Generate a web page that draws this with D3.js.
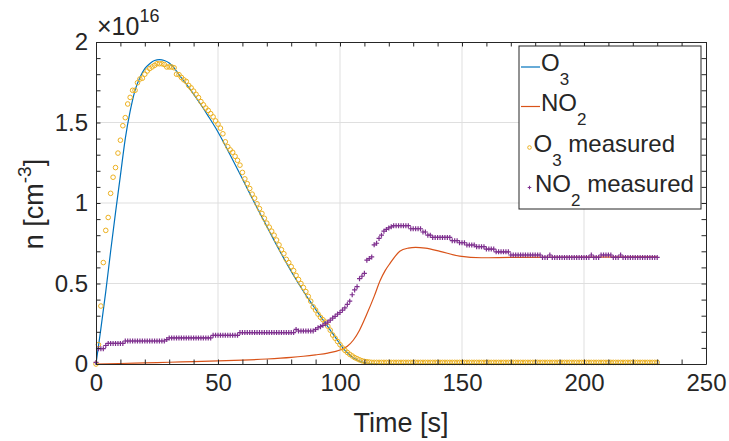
<!DOCTYPE html>
<html>
<head>
<meta charset="utf-8">
<script src="https://cdn.jsdelivr.net/npm/d3@7"></script>
<style>
  body { margin: 0; background: #fff; }
  svg text { font-family: "Liberation Sans", Arial, Helvetica, sans-serif; fill: #262626; }
</style>
</head>
<body>
<svg width="729" height="441"></svg>
<script>
// values are n in units of 1e16 cm^-3, time in s
const xTicks = [0, 50, 100, 150, 200, 250];
const yTicks = [0, 0.5, 1, 1.5, 2];

// model curves (knots)
const o3ModelTime = [0, 2, 4, 6, 8, 10, 12, 14, 16, 18, 20, 22, 24, 26, 28, 30, 32, 34, 37, 40, 43, 46, 49, 52, 55, 58, 61, 65, 69, 73, 77, 81, 85, 89, 92, 95, 98, 101, 104, 107, 110, 113, 118, 230];
const o3Model = [0, 0.22, 0.45, 0.70, 0.94, 1.17, 1.40, 1.57, 1.70, 1.78, 1.835, 1.865, 1.885, 1.89, 1.885, 1.87, 1.84, 1.797, 1.738, 1.676, 1.61, 1.54, 1.467, 1.385, 1.298, 1.21, 1.12, 1.0, 0.883, 0.768, 0.656, 0.55, 0.452, 0.362, 0.296, 0.232, 0.168, 0.104, 0.055, 0.024, 0.008, 0.002, 0, 0];

const no2ModelTime = [0, 10, 20, 30, 40, 50, 60, 70, 80, 85, 90, 95, 100, 103, 105.5, 108, 111, 114, 116.5, 118.5, 120.5, 124.5, 128, 131, 135, 141, 149, 158, 170, 230];
const no2Model = [0, 0.003, 0.007, 0.011, 0.015, 0.019, 0.024, 0.031, 0.041, 0.048, 0.057, 0.068, 0.087, 0.11, 0.149, 0.21, 0.31, 0.42, 0.52, 0.58, 0.625, 0.70, 0.72, 0.725, 0.72, 0.70, 0.67, 0.66, 0.662, 0.665];

// measurements, one sample per second from t = 0 s
const sampleStep = 1;
const o3Measured = [
  0, 0.12, 0.36, 0.63, 0.83, 0.91, 1.06, 1.16, 1.22, 1.31,
  1.39, 1.48, 1.53, 1.615, 1.656, 1.70, 1.70, 1.747, 1.77, 1.775,
  1.80, 1.82, 1.835, 1.845, 1.855, 1.865, 1.865, 1.865, 1.86, 1.845,
  1.845, 1.845, 1.84, 1.80, 1.797, 1.78, 1.765, 1.755, 1.73, 1.715,
  1.695, 1.675, 1.655, 1.63, 1.61, 1.59, 1.575, 1.555, 1.535, 1.51,
  1.49, 1.465, 1.43, 1.38, 1.35, 1.33, 1.315, 1.29, 1.265, 1.235,
  1.19, 1.15, 1.12, 1.09, 1.055, 1.03, 0.995, 0.965, 0.935, 0.905,
  0.875, 0.85, 0.825, 0.80, 0.77, 0.74, 0.71, 0.685, 0.65, 0.63,
  0.605, 0.58, 0.55, 0.525, 0.50, 0.475, 0.45, 0.42, 0.39, 0.355,
  0.335, 0.31, 0.29, 0.275, 0.26, 0.235, 0.21, 0.18, 0.16, 0.14,
  0.12, 0.10, 0.085, 0.072, 0.06, 0.05, 0.04, 0.033, 0.026, 0.02,
  0.016, 0.014, 0.012, 0.01, 0.01, 0.01, 0.01, 0.01, 0.01, 0.01,
  0.01, 0.01, 0.01, 0.01, 0.01, 0.01, 0.01, 0.01, 0.01, 0.01,
  0.01, 0.01, 0.01, 0.01, 0.01, 0.01, 0.01, 0.01, 0.01, 0.01,
  0.01, 0.01, 0.01, 0.01, 0.01, 0.01, 0.01, 0.01, 0.01, 0.01,
  0.01, 0.01, 0.01, 0.01, 0.01, 0.01, 0.01, 0.01, 0.01, 0.01,
  0.01, 0.01, 0.01, 0.01, 0.01, 0.01, 0.01, 0.01, 0.01, 0.01,
  0.01, 0.01, 0.01, 0.01, 0.01, 0.01, 0.01, 0.01, 0.01, 0.01,
  0.01, 0.01, 0.01, 0.01, 0.01, 0.01, 0.01, 0.01, 0.01, 0.01,
  0.01, 0.01, 0.01, 0.01, 0.01, 0.01, 0.01, 0.01, 0.01, 0.01,
  0.01, 0.01, 0.01, 0.01, 0.01, 0.01, 0.01, 0.01, 0.01, 0.01,
  0.01, 0.01, 0.01, 0.01, 0.01, 0.01, 0.01, 0.01, 0.01, 0.01,
  0.01, 0.01, 0.01, 0.01, 0.01, 0.01, 0.01, 0.01, 0.01, 0.01,
  0.01
];
const no2Measured = [
  0.01, 0.095, 0.095, 0.095, 0.115, 0.128, 0.128, 0.128, 0.128, 0.128,
  0.128, 0.128, 0.143, 0.143, 0.143, 0.143, 0.143, 0.143, 0.143, 0.143,
  0.143, 0.143, 0.143, 0.143, 0.143, 0.143, 0.143, 0.143, 0.143, 0.152,
  0.162, 0.162, 0.162, 0.162, 0.162, 0.162, 0.162, 0.162, 0.162, 0.162,
  0.162, 0.162, 0.162, 0.162, 0.162, 0.162, 0.162, 0.162, 0.178, 0.178,
  0.178, 0.178, 0.178, 0.178, 0.178, 0.178, 0.178, 0.178, 0.178, 0.195,
  0.195, 0.195, 0.195, 0.195, 0.195, 0.195, 0.195, 0.195, 0.195, 0.195,
  0.195, 0.195, 0.195, 0.195, 0.195, 0.195, 0.195, 0.195, 0.195, 0.195,
  0.195, 0.195, 0.215, 0.205, 0.205, 0.205, 0.205, 0.205, 0.205, 0.205,
  0.215, 0.225, 0.232, 0.24, 0.25, 0.26, 0.272, 0.285, 0.296, 0.31,
  0.32, 0.335, 0.348, 0.37, 0.39, 0.43, 0.46, 0.48, 0.53, 0.545,
  0.563, 0.645, 0.655, 0.665, 0.74, 0.75, 0.78, 0.80, 0.825, 0.836,
  0.845, 0.852, 0.859, 0.859, 0.859, 0.859, 0.859, 0.859, 0.859, 0.84,
  0.84, 0.84, 0.84, 0.84, 0.82, 0.82, 0.80, 0.80, 0.786, 0.786,
  0.786, 0.786, 0.786, 0.786, 0.786, 0.786, 0.766, 0.766, 0.766, 0.753,
  0.753, 0.753, 0.739, 0.739, 0.739, 0.739, 0.729, 0.729, 0.729, 0.729,
  0.714, 0.714, 0.714, 0.714, 0.697, 0.697, 0.697, 0.697, 0.697, 0.697,
  0.677, 0.677, 0.677, 0.677, 0.677, 0.677, 0.677, 0.677, 0.677, 0.677,
  0.677, 0.677, 0.677, 0.662, 0.662, 0.662, 0.677, 0.662, 0.662, 0.662,
  0.662, 0.662, 0.662, 0.662, 0.662, 0.662, 0.662, 0.662, 0.662, 0.662,
  0.662, 0.662, 0.662, 0.677, 0.662, 0.662, 0.662, 0.677, 0.677, 0.677,
  0.677, 0.677, 0.662, 0.662, 0.662, 0.677, 0.662, 0.662, 0.662, 0.662,
  0.662, 0.662, 0.662, 0.662, 0.662, 0.662, 0.662, 0.662, 0.662, 0.662,
  0.662
];

const colors = { o3: "#0072BD", no2: "#D95319", o3m: "#EDB120", no2m: "#7E2F8E" };
const axisColor = "#262626";

const svg = d3.select("svg");
const x = d3.scaleLinear().domain([0, 250]).range([96, 706]);
const y = d3.scaleLinear().domain([0, 2]).range([364, 42]);
const tickLen = 4.5;

// grid
const grid = svg.append("g").attr("stroke", "#dfdfdf").attr("stroke-width", 1);
grid.selectAll(".gx").data(xTicks.slice(1, -1)).enter().append("line")
  .attr("x1", d => x(d)).attr("x2", d => x(d))
  .attr("y1", y(0)).attr("y2", y(2));
grid.selectAll(".gy").data(yTicks.slice(1, -1)).enter().append("line")
  .attr("x1", x(0)).attr("x2", x(250))
  .attr("y1", d => y(d)).attr("y2", d => y(d));

// model lines
const line = d3.line().curve(d3.curveMonotoneX).x(d => x(d[0])).y(d => y(d[1]));
svg.append("path")
  .datum(d3.zip(o3ModelTime, o3Model))
  .attr("fill", "none").attr("stroke", colors.o3).attr("stroke-width", 1.2)
  .attr("d", line);
svg.append("path")
  .datum(d3.zip(no2ModelTime, no2Model))
  .attr("fill", "none").attr("stroke", colors.no2).attr("stroke-width", 1.2)
  .attr("d", line);

// measured markers
svg.append("g").selectAll("circle")
  .data(o3Measured).enter().append("circle")
  .attr("cx", (d, i) => x(i * sampleStep))
  .attr("cy", d => y(d))
  .attr("r", 2.3)
  .attr("fill", "none").attr("stroke", colors.o3m).attr("stroke-width", 1);

svg.append("g").selectAll("path")
  .data(no2Measured).enter().append("path")
  .attr("transform", (d, i) => "translate(" + x(i * sampleStep) + "," + y(d) + ")")
  .attr("d", "M-2.5,0H2.5M0,-2.5V2.5")
  .attr("stroke", colors.no2m).attr("stroke-width", 1.2);

// axes (ticks inward on all four sides)
function styleAxis(g) {
  g.attr("font-family", null).attr("font-size", null);
  g.select(".domain").attr("stroke", axisColor).attr("stroke-width", 1);
  g.selectAll(".tick line").attr("stroke", axisColor);
  g.selectAll(".tick text").attr("fill", axisColor).style("font-size", "24px");
}
svg.append("g").attr("transform", "translate(0," + y(0) + ")")
  .call(d3.axisBottom(x).tickValues(x.ticks(25)).tickSizeInner(-tickLen).tickSizeOuter(0).tickPadding(10)
    .tickFormat(d => xTicks.includes(d) ? d : ""))
  .call(styleAxis);
svg.append("g").attr("transform", "translate(0," + y(2) + ")")
  .call(d3.axisTop(x).tickValues(x.ticks(25)).tickSizeInner(-tickLen).tickSizeOuter(0).tickFormat(""))
  .call(styleAxis);
svg.append("g").attr("transform", "translate(" + x(0) + ",0)")
  .call(d3.axisLeft(y).tickValues(y.ticks(20)).tickSizeInner(-tickLen).tickSizeOuter(0).tickPadding(8)
    .tickFormat(d => yTicks.some(t => Math.abs(t - d) < 1e-9) ? d3.format("")(+d.toFixed(1)) : ""))
  .call(styleAxis);
svg.append("g").attr("transform", "translate(" + x(250) + ",0)")
  .call(d3.axisRight(y).tickValues(y.ticks(20)).tickSizeInner(-tickLen).tickSizeOuter(0).tickFormat(""))
  .call(styleAxis);

// exponent label
const expo = svg.append("text").attr("x", 97).attr("y", 35).style("font-size", "25px");
expo.append("tspan").text("\u00d710");
expo.append("tspan").attr("dy", -13).style("font-size", "18px").text("16");

// axis labels
svg.append("text")
  .attr("x", (x(0) + x(250)) / 2).attr("y", 432)
  .attr("text-anchor", "middle").style("font-size", "27px")
  .text("Time [s]");
const yl = svg.append("text")
  .attr("transform", "translate(43,204) rotate(-90)")
  .attr("text-anchor", "middle").style("font-size", "27px");
yl.append("tspan").text("n [cm");
yl.append("tspan").attr("dy", -12).style("font-size", "19px").text("-3");
yl.append("tspan").attr("dy", 12).text("]");

// legend
const lg = svg.append("g");
lg.append("rect").attr("x", 519).attr("y", 46).attr("width", 182).attr("height", 163)
  .attr("fill", "#fff").attr("stroke", axisColor).attr("stroke-width", 1);
const legendRows = [
  { base: "O", sub: "3", rest: "", kind: "line", color: colors.o3, tx: 541, by: 71 },
  { base: "NO", sub: "2", rest: "", kind: "line", color: colors.no2, tx: 541, by: 110.5 },
  { base: "O", sub: "3", rest: " measured", kind: "circle", color: colors.o3m, tx: 533.5, by: 151.5 },
  { base: "NO", sub: "2", rest: " measured", kind: "plus", color: colors.no2m, tx: 535, by: 191.5 }
];
legendRows.forEach(r => {
  const my = r.by - 4;
  if (r.kind === "line") {
    lg.append("line").attr("x1", 521).attr("x2", 540).attr("y1", my).attr("y2", my)
      .attr("stroke", r.color).attr("stroke-width", 1.2);
  } else if (r.kind === "circle") {
    lg.append("circle").attr("cx", 529.5).attr("cy", my).attr("r", 1.8)
      .attr("fill", "none").attr("stroke", r.color).attr("stroke-width", 1);
  } else {
    lg.append("path").attr("transform", "translate(529.5," + my + ")")
      .attr("d", "M-1.8,0H1.8M0,-1.8V1.8").attr("stroke", r.color).attr("stroke-width", 1.1);
  }
  const t = lg.append("text").attr("x", r.tx).attr("y", r.by).style("font-size", "24px");
  t.append("tspan").text(r.base);
  t.append("tspan").attr("dy", 14).style("font-size", "17px").text(r.sub);
  if (r.rest) t.append("tspan").attr("dy", -14).text(r.rest);
});
</script>
</body>
</html>
